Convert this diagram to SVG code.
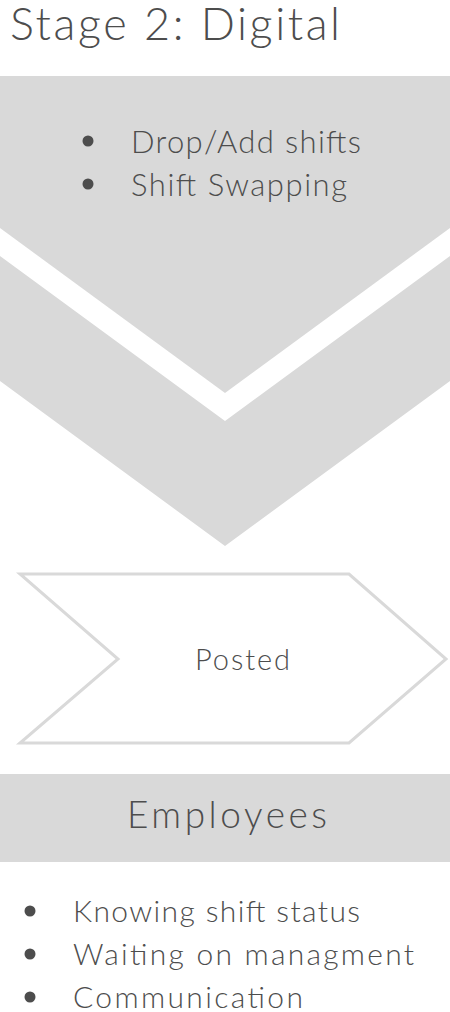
<svg xmlns="http://www.w3.org/2000/svg" width="450" height="1012" viewBox="0 0 450 1012">
<style>
.t{font-family:Lato,"Open Sans","Liberation Sans",sans-serif;font-weight:300;fill:#4d4d4d}
.g{fill:#d9d9d9}
.b{fill:#4d4d4d}
</style>
<rect width="450" height="1012" fill="#ffffff"/>
<g id="title"><text class="t" x="10" y="40" font-size="45" textLength="330" lengthAdjust="spacing">Stage 2: Digital</text></g>
<g id="chevron-top">
<polygon class="g" points="0,76 450,76 450,228 225,393 0,228"/>
<circle class="b" cx="88" cy="141" r="5.5"/>
<text class="t" x="131" y="153" font-size="31" textLength="230" lengthAdjust="spacing">Drop/Add shifts</text>
<circle class="b" cx="88" cy="184" r="5.5"/>
<text class="t" x="131" y="196" font-size="31" textLength="216" lengthAdjust="spacing">Shift Swapping</text>
</g>
<g id="chevron-bottom">
<polygon class="g" points="0,256 225,421 450,256 450,381 225,546 0,381"/>
</g>
<g id="posted">
<polygon points="20,574 349,574 446,659 349,743 20,743 118,659" fill="#ffffff" stroke="#d9d9d9" stroke-width="3"/>
<text class="t" x="195" y="670" font-size="29" textLength="95" lengthAdjust="spacing">Posted</text>
</g>
<g id="employees">
<rect class="g" x="0" y="774" width="450" height="88"/>
<text class="t" x="127" y="828" font-size="37" textLength="200" lengthAdjust="spacing">Employees</text>
</g>
<g id="employee-list">
<circle class="b" cx="30" cy="911" r="5.5"/>
<text class="t" x="73" y="922" font-size="30" textLength="287" lengthAdjust="spacing">Knowing shift status</text>
<circle class="b" cx="30" cy="954" r="5.5"/>
<text class="t" x="73" y="965" font-size="30" textLength="341" lengthAdjust="spacing">Waiting on managment</text>
<circle class="b" cx="30" cy="997" r="5.5"/>
<text class="t" x="73" y="1008" font-size="30" textLength="230" lengthAdjust="spacing">Communication</text>
</g>
<g id="connectors"></g>
</svg>
